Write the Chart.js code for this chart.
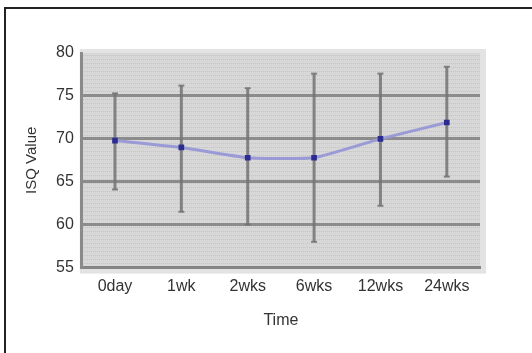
<!DOCTYPE html>
<html>
<head>
<meta charset="utf-8">
<script src="https://cdn.jsdelivr.net/npm/chart.js@4/dist/chart.umd.min.js"></script>
<style>
  html, body { margin: 0; padding: 0; background: #fff; }
  #wrap { position: relative; width: 532px; height: 353px; overflow: hidden; }
  #frame { position: absolute; left: 4px; top: 7px; width: 600px; height: 400px;
           border-left: 2px solid #222; border-top: 2px solid #222; box-sizing: border-box; }
  canvas { position: absolute; left: 0; top: 0; }
</style>
</head>
<body>
<div id="wrap">
  <div id="frame"></div>
  <canvas id="c" width="532" height="353"></canvas>
</div>
<script>
// Implant stability (ISQ) over the follow-up period: mean with upper/lower range
const categories = ['0day', '1wk', '2wks', '6wks', '12wks', '24wks'];
const meanISQ    = [69.8, 69.0, 67.8, 67.8, 70.0, 71.9];
const upperISQ   = [75.3, 76.2, 75.9, 77.6, 77.6, 78.4];
const lowerISQ   = [64.1, 61.5, 60.0, 58.0, 62.2, 65.6];
const yTicks     = [55, 60, 65, 70, 75, 80];

// Dithered grey fill for the plotting area
function makeFill(ctx) {
  const p = document.createElement('canvas');
  p.width = 4; p.height = 4;
  const g = p.getContext('2d');
  g.fillStyle = '#d2d2d2'; g.fillRect(0, 0, 4, 4);
  g.fillStyle = '#dcdcdc';
  g.fillRect(0, 0, 1, 1); g.fillRect(2, 0, 1, 1);
  g.fillRect(1, 1, 1, 1); g.fillRect(3, 1, 1, 1);
  g.fillRect(0, 2, 1, 1); g.fillRect(2, 2, 1, 1);
  g.fillStyle = '#c9c9c9';
  g.fillRect(1, 3, 1, 1); g.fillRect(3, 3, 1, 1);
  return ctx.createPattern(p, 'repeat');
}

const plotBackground = {
  id: 'plotBackground',
  beforeDraw(chart) {
    const { ctx, chartArea: a } = chart;
    ctx.save();
    ctx.fillStyle = '#e3e3e3';
    ctx.fillRect(a.left - 2, a.top - 4, a.right - a.left + 8, a.bottom - a.top + 10);
    ctx.fillStyle = makeFill(ctx);
    ctx.fillRect(a.left, a.top, a.right - a.left, a.bottom - a.top);
    ctx.restore();
  }
};

// Vertical range bars drawn from the upper/lower arrays
const rangeBars = {
  id: 'rangeBars',
  beforeDatasetsDraw(chart) {
    const { ctx, scales: { x, y } } = chart;
    ctx.save();
    ctx.strokeStyle = 'rgba(115,115,115,0.85)';
    ctx.fillStyle = 'rgba(115,115,115,0.85)';
    ctx.lineWidth = 3;
    categories.forEach((c, i) => {
      const px = x.getPixelForValue(i);
      const top = y.getPixelForValue(upperISQ[i]);
      const bot = y.getPixelForValue(lowerISQ[i]);
      ctx.beginPath();
      ctx.moveTo(px, top); ctx.lineTo(px, bot);
      ctx.stroke();
      ctx.fillRect(px - 3, top - 1, 6, 2);
      ctx.fillRect(px - 3, bot - 1, 6, 2);
    });
    ctx.restore();
  }
};

new Chart(document.getElementById('c'), {
  type: 'line',
  data: {
    labels: categories,
    datasets: [{
      data: meanISQ,
      borderColor: '#9a9ad6',
      borderWidth: 3,
      tension: 0.15,
      pointStyle: 'rect',
      pointRadius: 4,
      pointBackgroundColor: '#2c2c90',
      pointBorderColor: '#2c2c90',
      pointBorderWidth: 0
    }]
  },
  options: {
    responsive: false,
    animation: false,
    devicePixelRatio: 1,
    layout: { padding: { left: 19, right: 52, top: 53, bottom: 19 } },
    plugins: { legend: { display: false }, tooltip: { enabled: false } },
    scales: {
      x: {
        offset: true,
        grid: { display: false, drawTicks: false },
        border: { display: true, color: '#858585', width: 3 },
        ticks: { color: '#333', font: { family: 'Liberation Sans', size: 16 }, padding: 9, maxRotation: 0 },
        title: { display: true, text: 'Time', color: '#333', font: { family: 'Liberation Sans', size: 16 }, padding: { top: 6 } }
      },
      y: {
        min: 55, max: 80,
        afterBuildTicks(s) { s.ticks = yTicks.map(v => ({ value: v })); },
        grid: {
          drawTicks: false,
          lineWidth: 3,
          color: ctx => (ctx.tick && (ctx.tick.value === 55 || ctx.tick.value === 80)) ? 'rgba(0,0,0,0)' : '#8c8c8c'
        },
        border: { display: true, color: '#8a8a8a', width: 3 },
        ticks: { color: '#333', font: { family: 'Liberation Sans', size: 16 }, padding: 8 },
        title: { display: true, text: 'ISQ Value', color: '#333', font: { family: 'Liberation Sans', size: 15 }, padding: { bottom: 7 } }
      }
    }
  },
  plugins: [plotBackground, rangeBars]
});
</script>
</body>
</html>
